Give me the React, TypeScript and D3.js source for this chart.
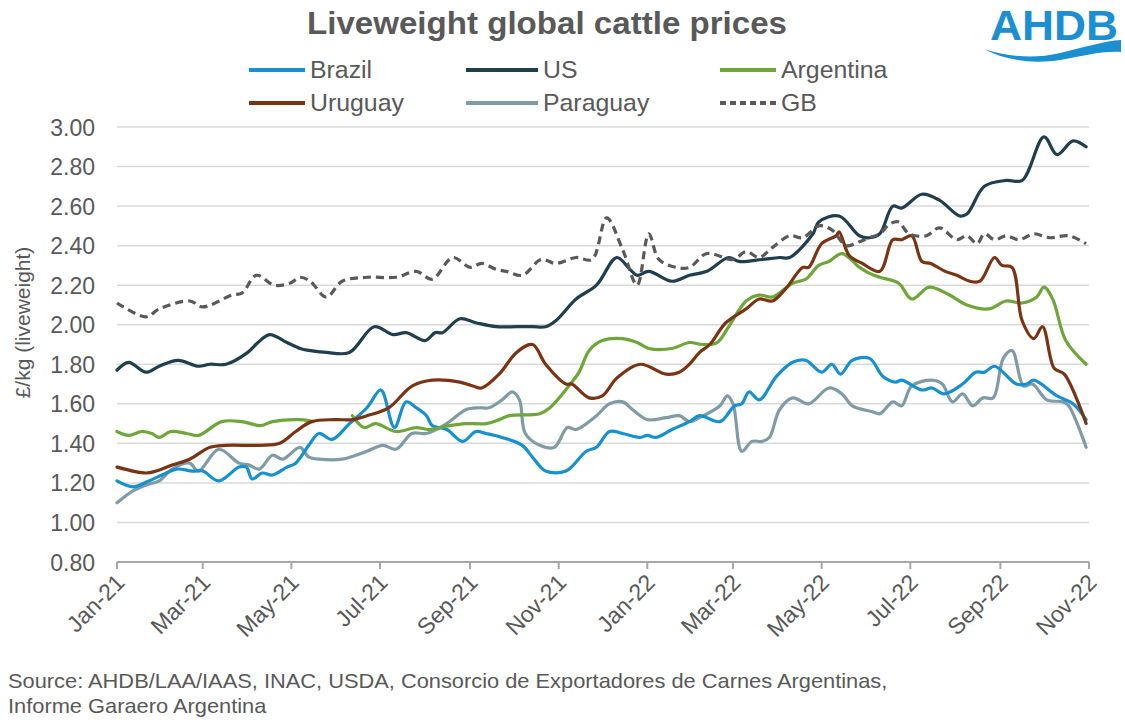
import React from "react";
import * as d3 from "d3";

type Pt = [string, number | null];

const title = "Liveweight global cattle prices";
const yAxisTitle = "£/kg (liveweight)";
const sourceLines = [
  "Source: AHDB/LAA/IAAS, INAC, USDA, Consorcio de Exportadores de Carnes Argentinas,",
  "Informe Garaero Argentina",
];
const yTicks = [0.8, 1.0, 1.2, 1.4, 1.6, 1.8, 2.0, 2.2, 2.4, 2.6, 2.8, 3.0];
const xDomain = ["2021-01-01", "2022-11-01"];

const brazil: Pt[] = [
  ["2021-01-01", 1.21], ["2021-01-12", 1.18], ["2021-01-23", 1.21], ["2021-02-01", 1.24],
  ["2021-02-11", 1.27], ["2021-02-22", 1.26], ["2021-03-01", 1.26], ["2021-03-12", 1.21],
  ["2021-03-26", 1.28], ["2021-03-31", 1.28], ["2021-04-04", 1.22], ["2021-04-11", 1.25],
  ["2021-04-18", 1.24], ["2021-04-28", 1.28], ["2021-05-04", 1.30], ["2021-05-13", 1.39],
  ["2021-05-20", 1.45], ["2021-05-29", 1.42], ["2021-06-10", 1.50], ["2021-06-22", 1.58],
  ["2021-07-01", 1.67], ["2021-07-03", 1.66], ["2021-07-11", 1.48], ["2021-07-19", 1.61],
  ["2021-07-26", 1.58], ["2021-08-02", 1.54], ["2021-08-06", 1.49], ["2021-08-16", 1.47],
  ["2021-08-27", 1.41], ["2021-09-05", 1.46], ["2021-09-12", 1.45], ["2021-09-23", 1.43],
  ["2021-10-07", 1.39], ["2021-10-14", 1.33], ["2021-10-23", 1.26], ["2021-11-06", 1.26],
  ["2021-11-20", 1.36], ["2021-11-27", 1.38], ["2021-12-06", 1.46], ["2021-12-15", 1.45],
  ["2021-12-27", 1.43], ["2022-01-01", 1.44], ["2022-01-07", 1.43], ["2022-01-18", 1.47],
  ["2022-01-30", 1.51], ["2022-02-06", 1.54], ["2022-02-20", 1.51], ["2022-03-02", 1.59],
  ["2022-03-07", 1.60], ["2022-03-12", 1.66], ["2022-03-19", 1.62], ["2022-03-31", 1.74],
  ["2022-04-11", 1.81], ["2022-04-20", 1.82], ["2022-05-01", 1.76], ["2022-05-08", 1.80],
  ["2022-05-14", 1.75], ["2022-05-22", 1.82], ["2022-06-03", 1.83], ["2022-06-12", 1.74],
  ["2022-06-21", 1.71], ["2022-06-25", 1.72], ["2022-07-09", 1.67], ["2022-07-16", 1.68],
  ["2022-07-24", 1.65], ["2022-08-06", 1.70], ["2022-08-15", 1.76], ["2022-08-21", 1.76],
  ["2022-08-28", 1.79], ["2022-09-12", 1.70], ["2022-09-19", 1.70], ["2022-09-24", 1.72],
  ["2022-10-10", 1.64], ["2022-10-21", 1.60], ["2022-10-30", 1.52],
];

const us: Pt[] = [
  ["2021-01-01", 1.77], ["2021-01-09", 1.81], ["2021-01-21", 1.76], ["2021-01-30", 1.79],
  ["2021-02-12", 1.82], ["2021-02-26", 1.79], ["2021-03-06", 1.80], ["2021-03-17", 1.80],
  ["2021-04-01", 1.86], ["2021-04-08", 1.91], ["2021-04-16", 1.95], ["2021-04-28", 1.91],
  ["2021-05-07", 1.88], ["2021-05-13", 1.87], ["2021-05-25", 1.86], ["2021-06-10", 1.86],
  ["2021-06-27", 1.99], ["2021-07-10", 1.95], ["2021-07-19", 1.96], ["2021-08-01", 1.92],
  ["2021-08-08", 1.96], ["2021-08-13", 1.96], ["2021-08-25", 2.03], ["2021-09-05", 2.01],
  ["2021-09-19", 1.99], ["2021-10-03", 1.99], ["2021-10-14", 1.99], ["2021-10-23", 1.99],
  ["2021-10-30", 2.02], ["2021-11-13", 2.13], ["2021-11-27", 2.20], ["2021-12-11", 2.34],
  ["2021-12-20", 2.28], ["2021-12-25", 2.25], ["2022-01-02", 2.27], ["2022-01-18", 2.22],
  ["2022-01-30", 2.25], ["2022-02-11", 2.27], ["2022-02-26", 2.34], ["2022-03-05", 2.32],
  ["2022-03-21", 2.33], ["2022-04-02", 2.34], ["2022-04-09", 2.34], ["2022-04-25", 2.46],
  ["2022-04-29", 2.52], ["2022-05-13", 2.55], ["2022-05-27", 2.45], ["2022-06-03", 2.44],
  ["2022-06-10", 2.46], ["2022-06-19", 2.60], ["2022-06-25", 2.59], ["2022-07-09", 2.66],
  ["2022-07-21", 2.63], ["2022-08-04", 2.55], ["2022-08-09", 2.56], ["2022-08-21", 2.70],
  ["2022-09-05", 2.73], ["2022-09-16", 2.73], ["2022-10-01", 2.95], ["2022-10-10", 2.86],
  ["2022-10-21", 2.93], ["2022-10-30", 2.90],
];

const argentina: Pt[] = [
  ["2021-01-01", 1.46], ["2021-01-09", 1.44], ["2021-01-18", 1.46], ["2021-01-25", 1.45],
  ["2021-01-30", 1.43], ["2021-02-07", 1.46], ["2021-02-18", 1.45], ["2021-02-26", 1.44],
  ["2021-03-14", 1.51], ["2021-03-28", 1.51], ["2021-04-10", 1.49], ["2021-04-18", 1.51],
  ["2021-05-07", 1.52], ["2021-05-16", 1.51], ["2021-05-30", null],
  ["2021-06-12", 1.54], ["2021-06-20", 1.48], ["2021-06-28", 1.50], ["2021-07-12", 1.46],
  ["2021-07-26", 1.48], ["2021-08-04", 1.47], ["2021-08-18", 1.49], ["2021-08-29", 1.50],
  ["2021-09-12", 1.50], ["2021-09-21", 1.52], ["2021-09-28", 1.54], ["2021-10-19", 1.55],
  ["2021-10-26", 1.58], ["2021-11-08", 1.69], ["2021-11-15", 1.76], ["2021-11-22", 1.87],
  ["2021-12-01", 1.92], ["2021-12-15", 1.93], ["2021-12-25", 1.91], ["2022-01-02", 1.88],
  ["2022-01-18", 1.88], ["2022-01-30", 1.91], ["2022-02-08", 1.90], ["2022-02-18", 1.91],
  ["2022-02-26", 1.99], ["2022-03-10", 2.12], ["2022-03-19", 2.15], ["2022-03-28", 2.14],
  ["2022-04-11", 2.21], ["2022-04-20", 2.23], ["2022-04-29", 2.30], ["2022-05-06", 2.32],
  ["2022-05-15", 2.36], ["2022-05-27", 2.29], ["2022-06-03", 2.26], ["2022-06-10", 2.24],
  ["2022-06-23", 2.21], ["2022-07-02", 2.13], ["2022-07-14", 2.19], ["2022-07-28", 2.15],
  ["2022-08-09", 2.10], ["2022-08-24", 2.08], ["2022-09-05", 2.12], ["2022-09-16", 2.11],
  ["2022-09-26", 2.14], ["2022-10-01", 2.19], ["2022-10-07", 2.13], ["2022-10-16", 1.92],
  ["2022-10-30", 1.80],
];

const uruguay: Pt[] = [
  ["2021-01-01", 1.28], ["2021-01-21", 1.25], ["2021-01-28", 1.26], ["2021-02-08", 1.29],
  ["2021-02-20", 1.32], ["2021-03-06", 1.38], ["2021-03-17", 1.39], ["2021-04-09", 1.39],
  ["2021-04-23", 1.40], ["2021-05-04", 1.46], ["2021-05-15", 1.51], ["2021-05-31", 1.52],
  ["2021-06-12", 1.52], ["2021-06-22", 1.54], ["2021-07-07", 1.58], ["2021-07-23", 1.69],
  ["2021-08-06", 1.72], ["2021-08-25", 1.71], ["2021-09-03", 1.69], ["2021-09-09", 1.68],
  ["2021-09-21", 1.75], ["2021-10-03", 1.86], ["2021-10-14", 1.90], ["2021-10-23", 1.80],
  ["2021-11-06", 1.70], ["2021-11-10", 1.70], ["2021-11-22", 1.63], ["2021-12-01", 1.64],
  ["2021-12-11", 1.73], ["2021-12-27", 1.80], ["2022-01-14", 1.75], ["2022-01-23", 1.76],
  ["2022-01-30", 1.80], ["2022-02-06", 1.86], ["2022-02-13", 1.90], ["2022-02-24", 2.01],
  ["2022-03-10", 2.08], ["2022-03-19", 2.13], ["2022-03-28", 2.12], ["2022-04-06", 2.18],
  ["2022-04-18", 2.29], ["2022-04-22", 2.29], ["2022-05-01", 2.41], ["2022-05-11", 2.45],
  ["2022-05-13", 2.47], ["2022-05-20", 2.35], ["2022-05-29", 2.31], ["2022-06-10", 2.27],
  ["2022-06-19", 2.43], ["2022-06-25", 2.43], ["2022-07-02", 2.45], ["2022-07-09", 2.32],
  ["2022-07-15", 2.31], ["2022-07-25", 2.27], ["2022-08-02", 2.25], ["2022-08-11", 2.22],
  ["2022-08-18", 2.22], ["2022-08-28", 2.34], ["2022-09-02", 2.30], ["2022-09-09", 2.29],
  ["2022-09-16", 2.02], ["2022-09-24", 1.93], ["2022-09-30", 1.99], ["2022-10-08", 1.78],
  ["2022-10-15", 1.75], ["2022-10-30", 1.50],
];

const paraguay: Pt[] = [
  ["2021-01-01", 1.10], ["2021-01-12", 1.16], ["2021-01-21", 1.19], ["2021-01-30", 1.21],
  ["2021-02-08", 1.27], ["2021-02-20", 1.30], ["2021-02-26", 1.26], ["2021-03-12", 1.37],
  ["2021-03-26", 1.30], ["2021-04-02", 1.29], ["2021-04-09", 1.27], ["2021-04-18", 1.34],
  ["2021-04-25", 1.32], ["2021-05-07", 1.38], ["2021-05-13", 1.33], ["2021-05-20", 1.32],
  ["2021-06-05", 1.32], ["2021-06-22", 1.36], ["2021-07-03", 1.39], ["2021-07-12", 1.37],
  ["2021-07-23", 1.45], ["2021-08-02", 1.45], ["2021-08-16", 1.50], ["2021-08-29", 1.57],
  ["2021-09-07", 1.58], ["2021-09-14", 1.58], ["2021-09-23", 1.62], ["2021-09-30", 1.66],
  ["2021-10-05", 1.62], ["2021-10-09", 1.45], ["2021-10-19", 1.39], ["2021-10-29", 1.38],
  ["2021-11-07", 1.48], ["2021-11-13", 1.47], ["2021-11-27", 1.54], ["2021-12-06", 1.60],
  ["2021-12-15", 1.61], ["2021-12-22", 1.57], ["2022-01-01", 1.52], ["2022-01-14", 1.53],
  ["2022-01-23", 1.54], ["2022-01-30", 1.51], ["2022-02-06", 1.53], ["2022-02-20", 1.59],
  ["2022-02-25", 1.64], ["2022-03-01", 1.60], ["2022-03-07", 1.36], ["2022-03-14", 1.41],
  ["2022-03-21", 1.41], ["2022-03-26", 1.43], ["2022-04-02", 1.57], ["2022-04-11", 1.63],
  ["2022-04-22", 1.60], ["2022-05-06", 1.68], ["2022-05-15", 1.65], ["2022-05-22", 1.59],
  ["2022-06-05", 1.56], ["2022-06-10", 1.55], ["2022-06-19", 1.61], ["2022-06-25", 1.59],
  ["2022-07-02", 1.69], ["2022-07-16", 1.72], ["2022-07-23", 1.70], ["2022-07-30", 1.61],
  ["2022-08-06", 1.65], ["2022-08-13", 1.59], ["2022-08-20", 1.63], ["2022-08-27", 1.63],
  ["2022-09-03", 1.83], ["2022-09-09", 1.87], ["2022-09-17", 1.69], ["2022-09-23", 1.70],
  ["2022-10-03", 1.62], ["2022-10-14", 1.61], ["2022-10-18", 1.59], ["2022-10-30", 1.38],
];

const gb: Pt[] = [
  ["2021-01-01", 2.11], ["2021-01-21", 2.04], ["2021-01-30", 2.08], ["2021-02-20", 2.12],
  ["2021-03-01", 2.09], ["2021-03-21", 2.15], ["2021-03-28", 2.16], ["2021-04-07", 2.25],
  ["2021-04-19", 2.20], ["2021-04-30", 2.21], ["2021-05-07", 2.24], ["2021-05-14", 2.22],
  ["2021-05-25", 2.14], ["2021-06-05", 2.22], ["2021-06-22", 2.24], ["2021-07-12", 2.24],
  ["2021-07-26", 2.27], ["2021-08-06", 2.23], ["2021-08-20", 2.34], ["2021-09-01", 2.29],
  ["2021-09-09", 2.31], ["2021-09-19", 2.28], ["2021-09-26", 2.27], ["2021-10-07", 2.25],
  ["2021-10-20", 2.33], ["2021-10-30", 2.31], ["2021-11-13", 2.34], ["2021-11-24", 2.33],
  ["2021-12-04", 2.54], ["2021-12-15", 2.38], ["2021-12-25", 2.20], ["2022-01-02", 2.46],
  ["2022-01-09", 2.33], ["2022-01-21", 2.29], ["2022-01-30", 2.29], ["2022-02-11", 2.36],
  ["2022-03-01", 2.33], ["2022-03-10", 2.37], ["2022-03-19", 2.34], ["2022-03-28", 2.39],
  ["2022-04-09", 2.45], ["2022-04-18", 2.44], ["2022-04-29", 2.50], ["2022-05-08", 2.48],
  ["2022-05-18", 2.40], ["2022-05-27", 2.42], ["2022-06-03", 2.44], ["2022-06-10", 2.46],
  ["2022-06-17", 2.51], ["2022-06-23", 2.52], ["2022-06-30", 2.46], ["2022-07-12", 2.45],
  ["2022-07-21", 2.49], ["2022-08-02", 2.43], ["2022-08-09", 2.45], ["2022-08-16", 2.41],
  ["2022-08-21", 2.46], ["2022-08-28", 2.43], ["2022-09-05", 2.45], ["2022-09-14", 2.43],
  ["2022-09-24", 2.46], ["2022-10-05", 2.44], ["2022-10-18", 2.45], ["2022-10-30", 2.41],
];

const seriesNames = ["Brazil", "US", "Argentina", "Uruguay", "Paraguay", "GB"];
const seriesData = [brazil, us, argentina, uruguay, paraguay, gb];
const seriesColors = ["#1590d0", "#1f3f4e", "#6fa63a", "#7a3414", "#7f9ca6", "#595959"];
const seriesDash = [null, null, null, null, null, "8 5"];

const W = 1125;
const H = 722;
const M = { left: 117, right: 1089, top: 127, bottom: 562 };
const textColor = "#595959";
const font = "'Liberation Sans', Arial, sans-serif";

export default function App() {
  const parse = d3.timeParse("%Y-%m-%d");
  const x = d3
    .scaleTime()
    .domain(xDomain.map((d) => parse(d) as Date))
    .range([M.left, M.right]);
  const y = d3.scaleLinear().domain([0.8, 3.0]).range([M.bottom, M.top]);

  const line = d3
    .line<Pt>()
    .defined((d) => d[1] !== null)
    .x((d) => x(parse(d[0]) as Date))
    .y((d) => y(d[1] as number))
    .curve(d3.curveCatmullRom.alpha(0.5));

  const xTicks = d3.timeMonth.every(2)!.range(
    parse("2021-01-01") as Date,
    d3.timeDay.offset(parse("2022-11-01") as Date, 1)
  );
  const fmt = d3.timeFormat("%b-%y");

  const legendPos = [
    { x: 249, y: 70 },
    { x: 466, y: 70 },
    { x: 720, y: 70 },
    { x: 249, y: 103 },
    { x: 466, y: 103 },
    { x: 720, y: 103 },
  ];
  const legendLen = [56, 72, 56, 56, 72, 56];

  // draw order: paraguay, brazil, argentina, uruguay, us, gb
  const order = [4, 0, 2, 3, 1, 5];

  return (
    <svg
      width={W}
      height={H}
      style={{ position: "absolute", left: 0, top: 0, background: "#fff" }}
      fontFamily={font}
    >
      <rect x={0} y={0} width={W} height={H} fill="#fff" />
      <text
        x={547}
        y={34}
        textAnchor="middle"
        fontSize={28}
        fontWeight="bold"
        fill={textColor}
        textLength={480}
        lengthAdjust="spacingAndGlyphs"
        transform="translate(547,34) scale(1,1.12) translate(-547,-34)"
      >
        {title}
      </text>

      {/* AHDB logo */}
      <g>
        <text
          x={1054}
          y={40}
          textAnchor="middle"
          fontSize={42}
          fontWeight="bold"
          fill="#1a8fd2"
          textLength={128}
          lengthAdjust="spacingAndGlyphs"
        >
          AHDB
        </text>
        <path
          d="M984,49 C1008,57 1035,59 1060,53 C1085,47 1105,41 1121,40 L1121,52 C1100,51 1085,56 1060,60 C1035,64 1006,61 984,49 Z"
          fill="#1a8fd2"
        />
      </g>

      {/* legend */}
      {seriesNames.map((name, i) => (
        <g key={name}>
          <line
            x1={legendPos[i].x}
            x2={legendPos[i].x + legendLen[i]}
            y1={legendPos[i].y}
            y2={legendPos[i].y}
            stroke={seriesColors[i]}
            strokeWidth={4}
            strokeDasharray={seriesDash[i] ? "6 4" : undefined}
          />
          <text
            x={legendPos[i].x + legendLen[i] + 5}
            y={legendPos[i].y + 8}
            fontSize={22}
            fill={textColor}
            transform={`translate(${legendPos[i].x + legendLen[i] + 5},${legendPos[i].y + 8}) scale(1.13,1.1) translate(${-(legendPos[i].x + legendLen[i] + 5)},${-(legendPos[i].y + 8)})`}
          >
            {name}
          </text>
        </g>
      ))}

      {/* gridlines */}
      {yTicks.slice(1).map((t) => (
        <line
          key={t}
          x1={M.left}
          x2={M.right}
          y1={y(t)}
          y2={y(t)}
          stroke="#d9d9d9"
          strokeWidth={1.5}
        />
      ))}
      {/* y labels */}
      {yTicks.map((t) => (
        <text
          key={"l" + t}
          x={95}
          y={y(t) + 8.5}
          textAnchor="end"
          fontSize={23}
          fill={textColor}
        >
          {t.toFixed(2)}
        </text>
      ))}
      <text
        transform={`translate(30,${(M.top + M.bottom) / 2 - 22}) rotate(-90)`}
        textAnchor="middle"
        fontSize={21}
        fill={textColor}
      >
        {yAxisTitle}
      </text>

      {/* x axis */}
      <line
        x1={M.left}
        x2={M.right}
        y1={M.bottom}
        y2={M.bottom}
        stroke="#a6a6a6"
        strokeWidth={2}
      />
      {xTicks.map((t) => (
        <g key={t.toISOString()} transform={`translate(${x(t)},${M.bottom})`}>
          <line y1={0} y2={7} stroke="#a6a6a6" strokeWidth={2} />
          <text
            transform="translate(9,22) rotate(-45)"
            textAnchor="end"
            fontSize={23}
            fill={textColor}
          >
            {fmt(t)}
          </text>
        </g>
      ))}

      {/* series */}
      {order.map((i) => (
        <path
          key={seriesNames[i]}
          d={line(seriesData[i]) ?? ""}
          fill="none"
          stroke={seriesColors[i]}
          strokeWidth={3.2}
          strokeLinejoin="round"
          strokeLinecap={seriesDash[i] ? "butt" : "round"}
          strokeDasharray={seriesDash[i] ?? undefined}
        />
      ))}

      {/* source */}
      {sourceLines.map((s, i) => (
        <text
          key={i}
          x={8}
          y={688 + i * 25}
          fontSize={21}
          fill={textColor}
          transform={`translate(8,${688 + i * 25}) scale(1.04,1) translate(-8,${-(688 + i * 25)})`}
        >
          {s}
        </text>
      ))}
    </svg>
  );
}
